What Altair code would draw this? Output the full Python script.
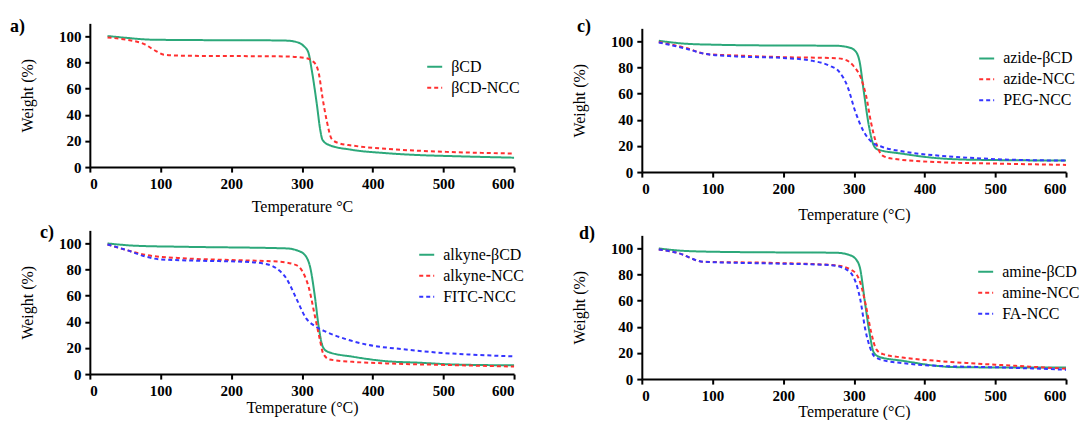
import altair as alt
import pandas as pd

FONT = "Liberation Serif"

# ---------------- data ----------------
# panel a
A_NAMES = ["βCD", "βCD-NCC"]
A_T_BCD = [25, 50, 88, 150, 250, 277, 291, 302, 309, 314, 321, 326, 329, 338, 371, 418, 465, 512, 600]
A_W_BCD = [100.3, 99.0, 97.5, 97.2, 97.0, 96.8, 95.9, 92.9, 87.8, 73.8, 48.3, 28.0, 20.9, 17.0, 13.2, 10.7, 9.2, 8.4, 7.2]
A_T_NCC = [25, 51, 77, 93, 105, 136, 277, 305, 317, 324, 329, 335, 342, 352, 371, 418, 465, 512, 600]
A_W_NCC = [99.2, 97.5, 94.1, 89.0, 86.0, 85.2, 84.7, 83.5, 80.2, 71.2, 53.4, 35.6, 21.6, 18.3, 16.5, 14.0, 12.5, 11.5, 10.4]

# panel b (top right)
B_NAMES = ["azide-βCD", "azide-NCC", "PEG-NCC"]
B_T_BCD = [24, 63, 110, 181, 274, 293, 302.5, 308, 314, 321, 327, 333, 368, 415, 462, 600]
B_W_BCD = [100.5, 98.2, 97.4, 96.9, 96.7, 95.4, 92.3, 84.6, 61.5, 35.9, 21.8, 17.4, 14.1, 10.8, 9.5, 8.8]
B_T_AZ = [24, 63, 91, 134, 204, 274, 288, 300, 310, 317, 324, 331, 340, 354, 415, 509, 600]
B_W_AZ = [99.5, 94.9, 90.3, 89.2, 87.9, 87.2, 85.9, 80.8, 71.8, 59.0, 38.5, 23.0, 12.8, 10.3, 7.7, 6.4, 5.5]
B_T_PEG = [24, 63, 91, 134, 204, 242, 265, 279, 291, 302, 314, 326, 340, 368, 415, 462, 509, 600]
B_W_PEG = [99.2, 94.4, 90.3, 88.5, 87.2, 85.1, 81.5, 76.9, 65.4, 46.2, 30.8, 22.6, 19.2, 15.9, 12.8, 11.0, 9.7, 8.8]

# panel c (bottom left)
C_NAMES = ["alkyne-βCD", "alkyne-NCC", "FITC-NCC"]
C_T_BCD = [25, 66, 137, 278, 296, 306, 312, 318, 324, 329.5, 336.5, 372, 419, 466, 513, 600]
C_W_BCD = [100.0, 98.2, 97.4, 96.2, 94.1, 89.8, 80.9, 60.5, 35.0, 20.9, 17.1, 13.3, 9.9, 8.7, 7.4, 6.7]
C_T_ALK = [25, 52, 80, 137, 207, 268, 292, 301, 310, 318, 325, 330, 339, 372, 419, 513, 600]
C_W_ALK = [99.2, 94.9, 91.1, 88.5, 87.2, 86.0, 83.4, 78.3, 65.6, 45.2, 27.3, 15.8, 11.2, 9.4, 8.2, 6.9, 5.8]
C_T_FITC = [25, 52, 80, 99, 160, 217, 245, 264, 278, 292, 306, 320, 334, 362, 395, 442, 489, 536, 600]
C_W_FITC = [99.2, 94.9, 89.8, 87.8, 86.7, 86.0, 84.7, 80.9, 73.2, 57.9, 42.6, 36.2, 32.4, 26.8, 22.2, 19.1, 16.6, 15.0, 13.6]

# panel d (bottom right)
D_NAMES = ["amine-βCD", "amine-NCC", "FA-NCC"]
D_T_BCD = [24, 64, 134, 275, 294, 303, 309, 315, 322, 328, 336, 369, 416, 439, 510, 600]
D_W_BCD = [100.0, 98.0, 97.2, 96.7, 94.9, 91.6, 84.0, 61.0, 35.6, 20.4, 17.0, 14.0, 10.2, 9.2, 8.9, 8.9]
D_T_AM = [24, 50, 87, 181, 275, 299, 309, 317, 324.5, 331.5, 341, 369, 416, 463, 510, 600]
D_W_AM = [99.2, 96.7, 89.8, 89.0, 87.0, 82.7, 73.8, 56.0, 35.6, 22.9, 19.1, 16.5, 14.0, 12.2, 10.7, 8.0]
D_T_FA = [24, 50, 87, 181, 266, 289, 301, 309, 316, 322, 329, 341, 369, 416, 510, 600]
D_W_FA = [99.2, 96.7, 89.8, 88.5, 87.3, 84.0, 76.3, 61.0, 38.2, 25.4, 17.3, 14.5, 12.2, 10.2, 8.9, 7.2]

X_TICKS = [0, 100, 200, 300, 400, 500, 600]
Y_TICKS = [0, 20, 40, 60, 80, 100]

GREEN = "#2ca87a"
RED = "#ff3030"
BLUE = "#3535ff"
SOLID = [1, 0]
DASH = [4, 3]


def build_df(names, temps, weights):
    rows = []
    for n, ts, ws in zip(names, temps, weights):
        for t, w in zip(ts, ws):
            rows.append({"T": t, "W": w, "S": n})
    return pd.DataFrame(rows)


def panel(names, temps, weights, colors, dashes, legend_xy, label, label_xy,
          xtitle, xpad, width, height, yrange=None):
    df = build_df(names, temps, weights)
    xs = alt.Scale(domain=[0, 600], nice=False)
    ys = alt.Scale(domain=[0, 110], nice=False, **({"range": yrange} if yrange else {}))
    leg = alt.Legend(
        title=None, orient="none", legendX=legend_xy[0], legendY=legend_xy[1],
        symbolType="stroke", symbolSize=225, symbolStrokeWidth=2,
        labelFont=FONT, labelFontSize=16, labelColor="black", labelOffset=8,
        rowPadding=4, padding=0,
    )
    line = alt.Chart(df).mark_line(strokeWidth=2, interpolate="monotone").encode(
        x=alt.X("T:Q", scale=xs,
                axis=alt.Axis(values=X_TICKS, title=xtitle, titlePadding=xpad)),
        y=alt.Y("W:Q", scale=ys,
                axis=alt.Axis(values=Y_TICKS, title="Weight (%)", titlePadding=23)),
        color=alt.Color("S:N", scale=alt.Scale(domain=names, range=colors), legend=leg),
        strokeDash=alt.StrokeDash("S:N", scale=alt.Scale(domain=names, range=dashes), legend=leg),
    )
    text = alt.Chart(pd.DataFrame({"L": [label]})).mark_text(
        align="left", baseline="middle", font=FONT, fontSize=18,
        fontWeight="bold", color="black",
    ).encode(x=alt.value(label_xy[0]), y=alt.value(label_xy[1]), text="L:N")
    return alt.layer(line, text).properties(width=width, height=height)


pa = panel(A_NAMES, [A_T_BCD, A_T_NCC], [A_W_BCD, A_W_NCC], [GREEN, RED], [SOLID, DASH],
           (337, 35), "a)", (-80, 3.5), "Temperature °C", 7.5, 425, 144)
pb = panel(B_NAMES, [B_T_BCD, B_T_AZ, B_T_PEG], [B_W_BCD, B_W_AZ, B_W_PEG],
           [GREEN, RED, BLUE], [SOLID, DASH, DASH],
           (337, 26.6), "c)", (-65, 3.5), "Temperature (°C)", 10.5, 425, 149,
           yrange=[149, 5])
pc = panel(C_NAMES, [C_T_BCD, C_T_ALK, C_T_FITC], [C_W_BCD, C_W_ALK, C_W_FITC],
           [GREEN, RED, BLUE], [SOLID, DASH, DASH],
           (329, 16), "c)", (-50, 2.5), "Temperature (°C)", 1, 425, 144)
pd_ = panel(D_NAMES, [D_T_BCD, D_T_AM, D_T_FA], [D_W_BCD, D_W_AM, D_W_FA],
            [GREEN, RED, BLUE], [SOLID, DASH, DASH],
            (336, 33), "d)", (-63, 3.4), "Temperature (°C)", 0.5, 425, 149,
            yrange=[149, 5])

chart = alt.concat(pa, pb, pc, pd_, columns=2, spacing=alt.RowColnumber(row=58.4, column=128),
                   bounds="flush").resolve_scale(
    color="independent", strokeDash="independent", x="independent", y="independent"
).resolve_legend(color="independent", strokeDash="independent").properties(
    padding={"left": 2, "top": 9, "right": 0, "bottom": 0},
    background="white",
).configure_view(stroke=None).configure_axis(
    grid=False, domainColor="black", domainWidth=2, tickColor="black", tickWidth=2,
    tickSize=5, labelPadding=4, labelFont=FONT, labelFontSize=15, labelFontWeight="bold",
    labelColor="black", titleFont=FONT, titleFontSize=16, titleFontWeight="normal",
    titleColor="black",
)

chart.save("out.html", embed_options={"renderer": "svg", "actions": False})
